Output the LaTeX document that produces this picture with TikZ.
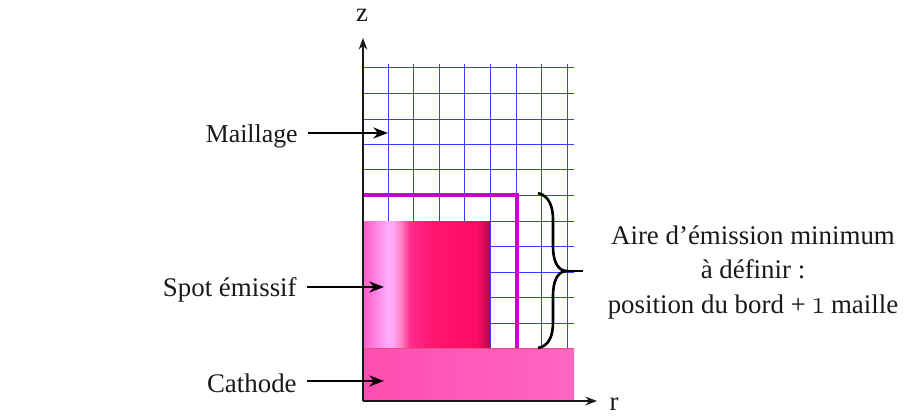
\documentclass[tikz,border=0pt]{standalone}
\usepackage{fontspec}
\setmainfont{Liberation Serif}
\newfontfamily\oldnums[Numbers=OldStyle, Scale=1.2]{Latin Modern Roman}
\usepackage{tikz}
\usetikzlibrary{arrows.meta, positioning, calc}
\definecolor{mesh_blue}{HTML}{3C3CFF}
\definecolor{edge_magenta}{HTML}{CC00CC}
\definecolor{axis_maroon}{HTML}{7A1030}
\definecolor{cathode_left}{HTML}{FF4DB0}
\definecolor{cathode_right}{HTML}{FF66C4}
\definecolor{cathode_top}{HTML}{E8507C}
\definecolor{spot_a}{HTML}{FF5CC8}
\definecolor{spot_b}{HTML}{FFAAFF}
\definecolor{spot_c}{HTML}{FFA4F4}
\definecolor{spot_d}{HTML}{FF80C0}
\definecolor{spot_e}{HTML}{FF2A90}
\definecolor{spot_f}{HTML}{FF1570}
\definecolor{spot_g}{HTML}{FF0A64}
\definecolor{spot_h}{HTML}{D80A58}
\definecolor{spot_i}{HTML}{A80848}
\pgfdeclarehorizontalshading{spot_shade}{100bp}{
    color(0bp)=(spot_a);
    color(25bp)=(spot_a);
    color(34.8bp)=(spot_b);
    color(37bp)=(spot_c);
    color(40bp)=(spot_d);
    color(43.5bp)=(spot_e);
    color(52.5bp)=(spot_f);
    color(69.5bp)=(spot_g);
    color(72.8bp)=(spot_h);
    color(75bp)=(spot_i);
    color(100bp)=(spot_i)
}
\tikzset{
    mesh_line/.style={draw=mesh_blue, line width=0.55pt},
    axis_arrow/.style={->, >=Stealth, draw=black!90, line width=0.8pt},
    label_arrow/.style={->, >=Stealth, draw=black, line width=1.2pt},
    edge_line/.style={draw=edge_magenta, line width=2.3pt},
    lbl/.style={font=\fontsize{15.3}{19.9}\selectfont, text=black!90, inner sep=0pt}
}
\begin{document}
\begin{tikzpicture}[x=0.02cm, y=-0.02cm]
    \useasboundingbox (0,0) rectangle (904,419);

    % mesh
    \foreach \xpos in {388.3,413.3,439.3,464.7,490,516,541.3,567.3}
        \draw[mesh_line] (\xpos,64) -- (\xpos,348.5);
    \foreach \ypos in {67.7,93,119,144.3,169.7,195.3,221,246.7,272,297.3,323.3}
        \draw[mesh_line] (363,\ypos) -- (574,\ypos);

    % cathode and spot
    \fill[shading=spot_shade] (363,221) rectangle (490,348.5);
    \fill[left color=cathode_left, right color=cathode_right] (363,348.5) rectangle (574,401);
    \draw[draw=cathode_top, line width=0.4pt] (363,348.5) -- (574,348.5);

    % edge of the emission area
    \draw[edge_line] (363,195) -- (516.7,195) -- (516.7,348);

    % axes
    \coordinate (origin) at (363,401);
    \coordinate (z_end) at (363,38);
    \coordinate (r_end) at (597,401);
    \draw[axis_maroon, line width=0.8pt] (363.3,64) -- (363.3,401);
    \draw[axis_arrow] (origin) -- (z_end);
    \draw[axis_arrow] (origin) -- (r_end);
    \node[lbl] (z_lbl) at (362,15) {z};
    \node[lbl] (r_lbl) at (614,404) {r};

    % labels
    \node[lbl, anchor=east, font=\fontsize{14.7}{19.9}\selectfont] (maillage) at (298,136) {Maillage};
    \node[lbl, anchor=east] (spot) at (297,290) {Spot émissif};
    \node[lbl, anchor=east] (cathode) at (297,383) {Cathode};
    \node[lbl, align=center] (aire) at (753,272.5) {Aire d’émission minimum\\à définir :\\position du bord + {\oldnums 1} maille};

    \coordinate (maillage_end) at (388,133);
    \coordinate (spot_end) at (384,287);
    \coordinate (cathode_end) at (384,381);
    \draw[label_arrow] ($(maillage.east |- maillage_end)+(10,0)$) -- (maillage_end);
    \draw[label_arrow] ($(spot.east |- spot_end)+(10,0)$) -- (spot_end);
    \draw[label_arrow] ($(cathode.east |- cathode_end)+(10,0)$) -- (cathode_end);

    % brace
    \coordinate (brace_top) at (538,193);
    \coordinate (brace_tip) at (567,271);
    \coordinate (brace_bot) at (538,348);
    \coordinate (brace_tail) at (583,271);
    \draw[black, line width=1.5pt]
        (brace_top) .. controls (549,196) and (553,206) .. (553,220)
        -- (553,246) .. controls (553,260) and (557,271) .. (brace_tip)
        .. controls (557,271) and (553,282) .. (553,296)
        -- (553,322) .. controls (553,336) and (549,346) .. (brace_bot);
    \draw[black, line width=1.5pt] (brace_tip) -- (brace_tail);
\end{tikzpicture}
\end{document}
